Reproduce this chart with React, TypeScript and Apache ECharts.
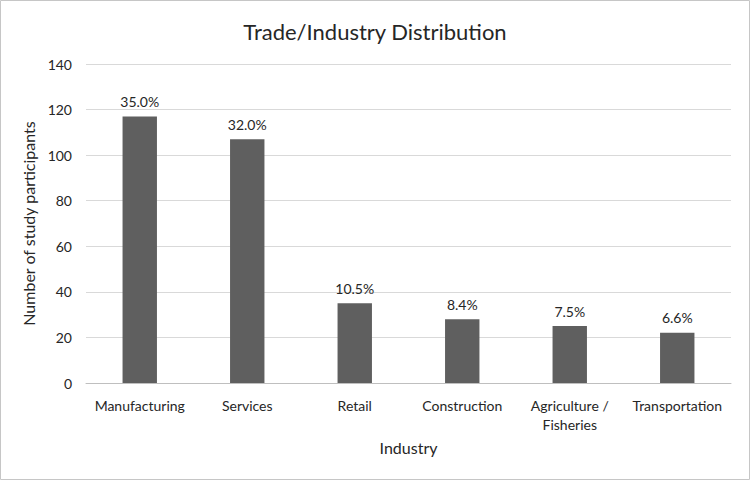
import React, { useEffect, useRef } from "react";
import * as echarts from "echarts";

const categories = [
  "Manufacturing",
  "Services",
  "Retail",
  "Construction",
  "Agriculture /\nFisheries",
  "Transportation",
];
const participants = [117, 107, 35, 28, 25, 22];
const percentLabels = ["35.0%", "32.0%", "10.5%", "8.4%", "7.5%", "6.6%"];

const FONT = "Lato, 'Open Sans', sans-serif";
const TEXT = "#262626";

export default function App() {
  const ref = useRef<HTMLDivElement>(null);
  useEffect(() => {
    if (!ref.current) return;
    const chart = echarts.init(ref.current, null, { renderer: "svg" });
    chart.setOption({
      animation: false,
      backgroundColor: "#ffffff",
      title: {
        text: "Trade/Industry Distribution",
        left: "center",
        top: 15,
        textStyle: { fontFamily: FONT, fontSize: 22, fontWeight: "normal", color: TEXT },
      },
      grid: { left: 86, right: 19, top: 64, bottom: 97, outerBoundsMode: "none", containLabel: false },
      xAxis: {
        type: "category",
        data: categories,
        name: "Industry",
        nameLocation: "middle",
        nameGap: 56,
        nameTextStyle: { fontFamily: FONT, fontSize: 16, color: TEXT },
        axisTick: { show: false },
        axisLine: { lineStyle: { color: "#bfbfbf", width: 1 } },
        axisLabel: {
          fontFamily: FONT,
          fontSize: 14,
          color: TEXT,
          margin: 13,
          lineHeight: 19,
          interval: 0,
        },
      },
      yAxis: {
        type: "value",
        min: 0,
        max: 140,
        interval: 20,
        name: "Number of study participants",
        nameLocation: "middle",
        nameGap: 44,
        nameTextStyle: { fontFamily: FONT, fontSize: 16, color: TEXT },
        axisLine: { show: false },
        axisTick: { show: false },
        splitLine: { lineStyle: { color: "#d9d9d9", width: 1 } },
        axisLabel: { fontFamily: FONT, fontSize: 14, color: TEXT, margin: 14 },
      },
      series: [
        {
          type: "bar",
          data: participants,
          barWidth: "32%",
          itemStyle: { color: "#5f5f5f" },
          label: {
            show: true,
            position: "top",
            distance: 8,
            fontFamily: FONT,
            fontSize: 14,
            color: TEXT,
            formatter: (p: any) => percentLabels[p.dataIndex],
          },
        },
      ],
      graphic: [
        {
          type: "rect",
          shape: { x: 0.5, y: 0.5, width: 749, height: 479 },
          style: { fill: "none", stroke: "#c6c6c6", lineWidth: 1 },
          silent: true,
        },
      ],
    });
    return () => chart.dispose();
  }, []);
  return (
    <div
      ref={ref}
      style={{ position: "fixed", left: 0, top: 0, width: 750, height: 480 }}
    />
  );
}
